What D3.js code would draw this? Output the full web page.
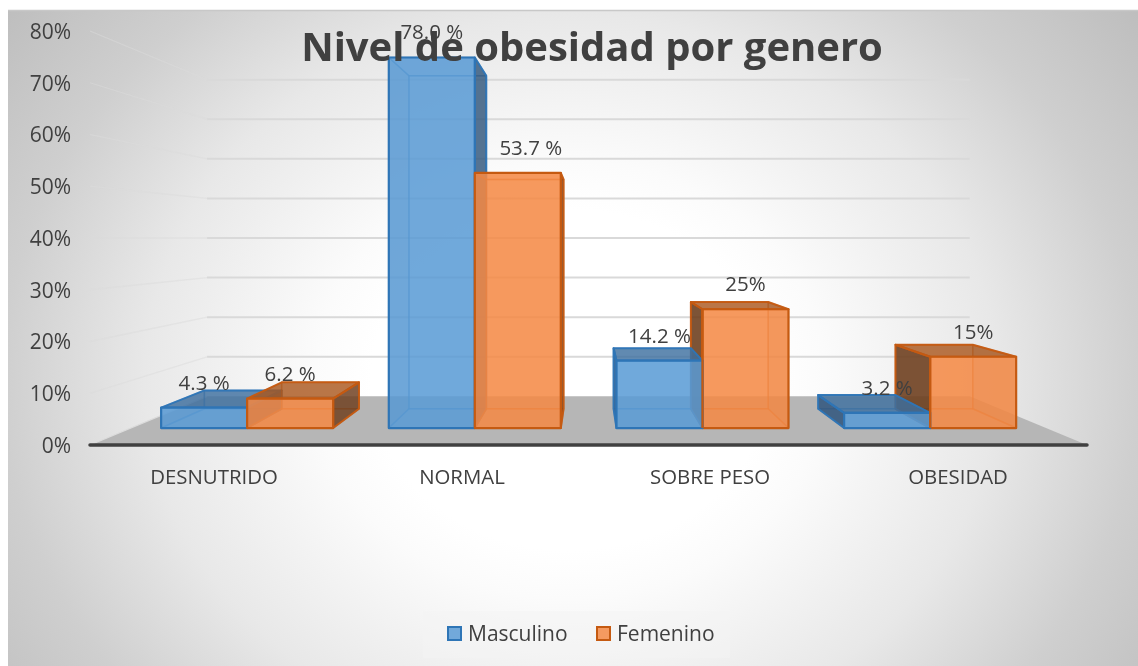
<!DOCTYPE html>
<html><head><meta charset="utf-8">
<script src="https://cdn.jsdelivr.net/npm/d3@7/dist/d3.min.js"></script>
<style>html,body{margin:0;padding:0;background:#fff}svg{display:block;filter:blur(.35px)}text{font-family:"Open Sans","Noto Sans",sans-serif;fill:#404040}</style>
</head><body><svg id="c" width="1138" height="666"></svg>
<script>
const categories=["DESNUTRIDO","NORMAL","SOBRE PESO","OBESIDAD"];
const seriesNames=["Masculino","Femenino"];
const masculino=[4.3,78,14.2,3.2];
const femenino=[6.2,53.7,25,15];
const masculinoLabels=["4.3 %","78.0 %","14.2 %","3.2 %"];
const femeninoLabels=["6.2 %","53.7 %","25%","15%"];
const yTicks=[0,10,20,30,40,50,60,70,80];
const title="Nivel de obesidad por genero";

const W=1138,H=666,cx=588,vy=238;
const svg=d3.select("#c");
const defs=svg.append("defs");
const g=defs.append("radialGradient").attr("id","bg").attr("gradientUnits","userSpaceOnUse")
  .attr("cx",570).attr("cy",380).attr("r",710)
  .attr("gradientTransform","translate(570 380) scale(1 .857) translate(-570 -380)");
[[0,"#ffffff"],[.28,"#ffffff"],[.36,"#fbfbfb"],[.6,"#e8e8e8"],[.8,"#cfcfcf"],[1,"#bebebe"]].forEach(d=>g.append("stop").attr("offset",d[0]).attr("stop-color",d[1]));
svg.append("rect").attr("x",8).attr("y",10).attr("width",W-8).attr("height",H-10).attr("fill","url(#bg)");
svg.append("path").attr("d",`M${W},10.5H8`).attr("fill","none").attr("stroke","#c8c8c8").attr("stroke-width",1.5);

const x0=d3.scaleBand().domain(categories).range([90,1082]);
const x1=d3.scaleBand().domain(seriesNames).range([33,220.4]);
const y=d3.scaleLinear().domain([0,80]).range([445,31]);
const depth=d3.scaleLinear().domain([0,1]).range([.918,.825]);
const wall=.765;
const proj=(px,v,s)=>[cx+(px-cx)*s, vy+(y(v)-vy)*s];
const line=pts=>"M"+pts.map(p=>p.join(",")).join("L")+"Z";
const open=pts=>"M"+pts.map(p=>p.join(",")).join("L");

// floor
const xL=90,xR=1087;
svg.append("path").attr("d",line([proj(xL,0,1),proj(xR,0,1),proj(xR,0,wall),proj(xL,0,wall)])).attr("fill","#b6b6b6");
// gridlines
yTicks.filter(t=>t>0).forEach(t=>{
  svg.append("path").attr("d",open([proj(xL,t,wall),proj(xR,t,wall)])).attr("fill","none").attr("stroke","#d9d9d9").attr("stroke-width",2);
  svg.append("path").attr("d",open([proj(xL,t,1),proj(xL,t,wall)])).attr("fill","none").attr("stroke","#dcdcdc").attr("stroke-width",1.3).attr("stroke-opacity",.5);
});
svg.append("path").attr("d",open([proj(xL,0,1),proj(xL,0,wall)])).attr("fill","none").attr("stroke","#dcdcdc").attr("stroke-width",1.3);

// axes
const ay=svg.append("g").attr("transform","translate(71,0)").call(d3.axisLeft(y).tickValues(yTicks).tickFormat(d=>d+"%").tickSize(0).tickPadding(0));
ay.select(".domain").remove();
ay.selectAll("text").attr("font-size",21).attr("dy","0.35em");
const ax=svg.append("g").attr("transform","translate(0,477)").call(d3.axisBottom(x0).tickSize(0).tickPadding(0));
ax.select(".domain").remove();
ax.selectAll("text").attr("font-size",20.4).attr("dy","0.35em");
svg.append("line").attr("x1",90).attr("x2",1087).attr("y1",y(0)).attr("y2",y(0)).attr("stroke","#404040").attr("stroke-width",3.5).attr("stroke-linecap","round");

const colors={
 Masculino:{front:"#5b9bd5",stroke:"#2e75b6",top:"#3f6f9f",side:"#34587d"},
 Femenino:{front:"#f58a45",stroke:"#c55a11",top:"#a9581f",side:"#6b3d1e"}
};
function drawBar(cat,name,val){
  const c=colors[name], l=x0(cat)+x1(name), r=l+x1.bandwidth();
  const F=depth(0),B=depth(1);
  const fbl=proj(l,0,F),fbr=proj(r,0,F),ftl=proj(l,val,F),ftr=proj(r,val,F);
  const bbl=proj(l,0,B),bbr=proj(r,0,B),btl=proj(l,val,B),btr=proj(r,val,B);
  const grp=svg.append("g");
  const face=(pts,fill,fo,sw,so)=>grp.append("path").attr("d",line(pts)).attr("fill",fill).attr("fill-opacity",fo)
     .attr("stroke",c.stroke).attr("stroke-width",sw).attr("stroke-opacity",so).attr("stroke-linejoin","round");
  const rightVisible=bbr[0]>fbr[0], leftVisible=bbl[0]<fbl[0];
  const topVisible=btl[1]<ftl[1];
  face([bbl,bbr,btr,btl],c.front,.12,1.5,.45);
  face([fbl,fbr,bbr,bbl],c.front,.12,1.5,.45);
  if(!leftVisible) face([fbl,bbl,btl,ftl],c.side,.14,1.5,.4);
  if(!rightVisible) face([fbr,bbr,btr,ftr],c.side,.14,1.5,.4);
  if(!topVisible) face([ftl,ftr,btr,btl],c.front,.15,1.5,.5);
  if(leftVisible) face([fbl,bbl,btl,ftl],c.side,.88,2,.95);
  if(rightVisible) face([fbr,bbr,btr,ftr],c.side,.82,2,.95);
  if(topVisible) face([ftl,ftr,btr,btl],c.top,.8,2,.95);
  face([fbl,fbr,ftr,ftl],c.front,.85,2.2,1);
}
categories.forEach((cat,i)=>{
  const left=x0(cat)+x0.bandwidth()/2<cx;
  if(left){drawBar(cat,"Masculino",masculino[i]);drawBar(cat,"Femenino",femenino[i]);}
  else{drawBar(cat,"Femenino",femenino[i]);drawBar(cat,"Masculino",masculino[i]);
       const l=x0(cat)+x1("Femenino"),F=depth(0);
       svg.append("path").attr("d",open([proj(l,femenino[i],F),proj(l,0,F)])).attr("stroke",colors.Femenino.stroke).attr("stroke-width",2.2).attr("fill","none");}
});

// title
svg.append("text").attr("x",592).attr("y",61).attr("text-anchor","middle").attr("font-size",40).attr("font-weight",700).text(title);

// value labels (the 53.7 % label sits off-centre in the reference)
const labelLayer=(vals,labels,name,dx)=>categories.forEach((cat,i)=>{
  const px=x0(cat)+x1(name)+x1.bandwidth()/2;
  const p=proj(px,vals[i],depth(0));
  svg.append("text").attr("x",p[0]+dx[i]).attr("y",p[1]-18).attr("text-anchor","middle").attr("font-size",20.5).text(labels[i]);
});
labelLayer(masculino,masculinoLabels,"Masculino",[0,0,0,0]);
labelLayer(femenino,femeninoLabels,"Femenino",[0,13,0,0]);

// legend
svg.append("rect").attr("x",423).attr("y",611).attr("width",307).attr("height",47).attr("fill","#f4f4f4").attr("fill-opacity",.5);
const legendX=[448,597];
seriesNames.forEach((n,i)=>{
  svg.append("rect").attr("x",legendX[i]).attr("y",627).attr("width",13).attr("height",13).attr("fill",colors[n].front).attr("fill-opacity",.85).attr("stroke",colors[n].stroke).attr("stroke-width",2);
  svg.append("text").attr("x",legendX[i]+20).attr("y",641).attr("font-size",21).text(n);
});
</script></body></html>
